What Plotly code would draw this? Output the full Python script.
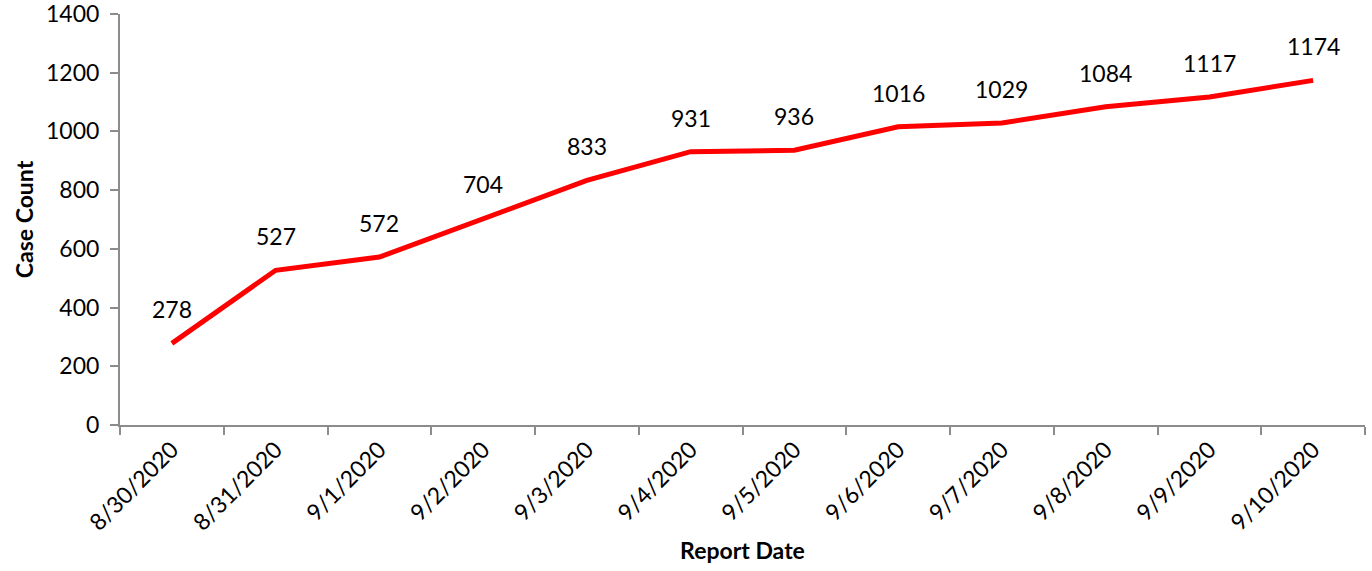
import plotly.graph_objects as go

dates = ["8/30/2020", "8/31/2020", "9/1/2020", "9/2/2020", "9/3/2020", "9/4/2020",
         "9/5/2020", "9/6/2020", "9/7/2020", "9/8/2020", "9/9/2020", "9/10/2020"]
cases = [278, 527, 572, 704, 833, 931, 936, 1016, 1029, 1084, 1117, 1174]

FONT = "Lato, 'Open Sans', sans-serif"
FS = 23

fig = go.Figure()
fig.add_trace(go.Scatter(x=dates, y=cases, mode="lines",
                         line=dict(color="#ff0000", width=5), showlegend=False,
                         hoverinfo="x+y"))

for d, v in zip(dates, cases):
    fig.add_annotation(x=d, y=v, text=str(v), showarrow=False, yshift=34,
                       font=dict(family=FONT, size=FS, color="#000000"))

fig.update_layout(
    width=1372, height=571,
    margin=dict(l=120, r=7, t=14, b=146),
    paper_bgcolor="white", plot_bgcolor="white",
    font=dict(family=FONT, size=FS, color="#000000"),
)
fig.update_xaxes(
    type="category", range=[-0.5, len(dates) - 0.5], automargin=False,
    showline=True, linecolor="#8c8c8c", linewidth=2,
    ticks="outside", ticklen=8, tickcolor="#8c8c8c", tickwidth=2,
    tickson="boundaries", tickangle=-45, showgrid=False,
    tickfont=dict(family=FONT, size=FS),
    title=dict(text="<b>Report Date</b>", font=dict(family=FONT, size=FS), standoff=8),
)
fig.update_yaxes(
    range=[0, 1400], dtick=200, showline=True, linecolor="#8c8c8c", linewidth=2,
    ticks="outside", ticklen=8, tickcolor="#8c8c8c", tickwidth=2, automargin=False,
    showgrid=False, zeroline=False, ticklabeloverflow="allow", ticklabelstandoff=6,
    tickfont=dict(family=FONT, size=FS),
    title=dict(text="<b>Case Count</b>", font=dict(family=FONT, size=FS), standoff=6),
)

fig.write_html("out.html", config={"displayModeBar": False},
               post_script="document.body.style.margin='0px';document.body.style.overflow='hidden';")
